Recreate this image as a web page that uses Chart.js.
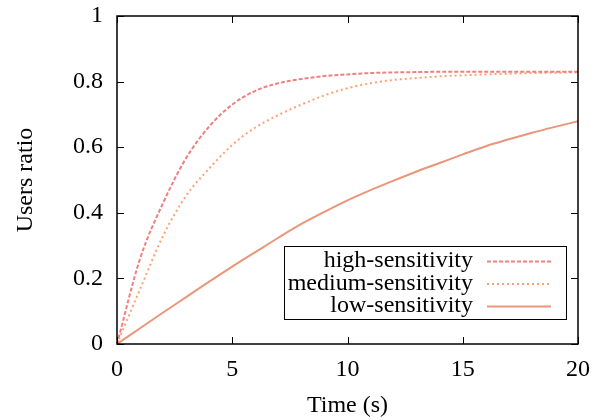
<!DOCTYPE html>
<html>
<head>
<meta charset="utf-8">
<script src="https://cdn.jsdelivr.net/npm/chart.js@4"></script>
<style>
  html, body { margin: 0; padding: 0; background: #fff; }
  #wrap { width: 593px; height: 420px; position: relative; }
</style>
</head>
<body>
<div id="wrap"><canvas id="myChart"></canvas></div>
<script>
// time in seconds
const times = [0, 1, 2, 3, 4, 5, 6, 7, 8, 9, 10, 11, 12, 13, 14, 15, 16, 17, 18, 19, 20];
const highSensitivity = [0, 0.26, 0.43, 0.567, 0.663, 0.73, 0.772, 0.795, 0.808, 0.817, 0.822, 0.826, 0.828, 0.829, 0.83, 0.83, 0.83, 0.83, 0.83, 0.83, 0.83];
const mediumSensitivity = [0, 0.167, 0.33, 0.452, 0.535, 0.607, 0.66, 0.698, 0.73, 0.758, 0.78, 0.795, 0.805, 0.811, 0.816, 0.819, 0.822, 0.824, 0.826, 0.827, 0.828];
const lowSensitivity = [0, 0.048, 0.096, 0.143, 0.19, 0.236, 0.28, 0.324, 0.366, 0.403, 0.438, 0.469, 0.498, 0.526, 0.552, 0.578, 0.603, 0.624, 0.644, 0.662, 0.679];
const xTicks = [0, 5, 10, 15, 20];
const yTicks = [0, 0.2, 0.4, 0.6, 0.8, 1];

const FONT = "'Liberation Serif', 'DejaVu Serif', serif";

const series = [
  { label: "high-sensitivity", data: highSensitivity, color: "#f08080", dash: [4, 2] },
  { label: "medium-sensitivity", data: mediumSensitivity, color: "#ffa070", dash: [2, 3] },
  { label: "low-sensitivity", data: lowSensitivity, color: "#e9967a", dash: [] },
];

// gnuplot-like frame: box + inward ticks on all 4 sides, plus the key
const framePlugin = {
  id: "frame",
  afterDatasetsDraw(chart) {
    const { ctx, chartArea: a, scales } = chart;
    const len = 7;
    ctx.save();
    ctx.strokeStyle = "#000";
    ctx.lineWidth = 1;
    xTicks.forEach(v => {
      const x = Math.round(scales.x.getPixelForValue(v)) + 0.5;
      ctx.beginPath();
      ctx.moveTo(x, a.bottom); ctx.lineTo(x, a.bottom - len);
      ctx.moveTo(x, a.top); ctx.lineTo(x, a.top + len);
      ctx.stroke();
    });
    yTicks.forEach(v => {
      const y = Math.round(scales.y.getPixelForValue(v)) + 0.5;
      ctx.beginPath();
      ctx.moveTo(a.left, y); ctx.lineTo(a.left + len, y);
      ctx.moveTo(a.right, y); ctx.lineTo(a.right - len, y);
      ctx.stroke();
    });
    ctx.lineWidth = 1.5;
    ctx.strokeRect(a.left, a.top, a.right - a.left, a.bottom - a.top);

    // key box
    const bx1 = a.right - 12, by2 = a.bottom - 25;
    const bx0 = bx1 - 282, by0 = by2 - 73;
    ctx.fillStyle = "#fff";
    ctx.fillRect(bx0, by0, bx1 - bx0, by2 - by0);
    ctx.lineWidth = 1;
    ctx.strokeRect(bx0 + 0.5, by0 + 0.5, bx1 - bx0, by2 - by0);
    ctx.font = "24px " + FONT;
    ctx.textAlign = "right";
    ctx.textBaseline = "middle";
    series.forEach((s, i) => {
      const y = by0 + 15 + i * 22.5;
      ctx.fillStyle = "#000";
      ctx.fillText(s.label, bx1 - 93, y);
      ctx.strokeStyle = s.color;
      ctx.lineWidth = 2;
      ctx.setLineDash(s.dash);
      ctx.beginPath();
      ctx.moveTo(bx1 - 79, y + 0.5);
      ctx.lineTo(bx1 - 15, y + 0.5);
      ctx.stroke();
      ctx.setLineDash([]);
    });
    ctx.restore();
  },
};

const tickLabel = v => String(Math.round(v * 10) / 10);

new Chart(document.getElementById("myChart"), {
  type: "line",
  data: {
    labels: times,
    datasets: series.map(s => ({
      label: s.label,
      data: times.map((t, i) => ({ x: t, y: s.data[i] })),
      borderColor: s.color,
      borderWidth: 2,
      borderDash: s.dash,
      pointRadius: 0,
      cubicInterpolationMode: "monotone",
      fill: false,
    })),
  },
  options: {
    responsive: true,
    maintainAspectRatio: false,
    animation: false,
    layout: { padding: { top: 16, right: 15, left: 0, bottom: 0 } },
    plugins: { legend: { display: false }, tooltip: { enabled: false } },
    scales: {
      x: {
        type: "linear",
        min: 0,
        max: 20,
        afterFit: s => { s.height = 76; s.paddingLeft = 0; s.paddingRight = 0; },
        afterBuildTicks: s => { s.ticks = xTicks.map(v => ({ value: v })); },
        grid: { display: false, drawTicks: false },
        border: { display: false },
        ticks: { color: "#000", padding: 11, maxRotation: 0, callback: tickLabel, font: { family: FONT, size: 24 } },
        title: { display: true, text: "Time (s)", color: "#000", padding: { top: 1, bottom: 0 }, font: { family: FONT, size: 24 } },
      },
      y: {
        min: 0,
        max: 1,
        afterFit: s => { s.width = 117; s.paddingTop = 0; s.paddingBottom = 0; },
        afterBuildTicks: s => { s.ticks = yTicks.map(v => ({ value: v })); },
        grid: { display: false, drawTicks: false },
        border: { display: false },
        ticks: { color: "#000", padding: 14, callback: tickLabel, font: { family: FONT, size: 24 } },
        title: { display: true, text: "Users ratio", color: "#000", padding: { top: 11, bottom: 0 }, font: { family: FONT, size: 24 } },
      },
    },
  },
  plugins: [framePlugin],
});
</script>
</body>
</html>
